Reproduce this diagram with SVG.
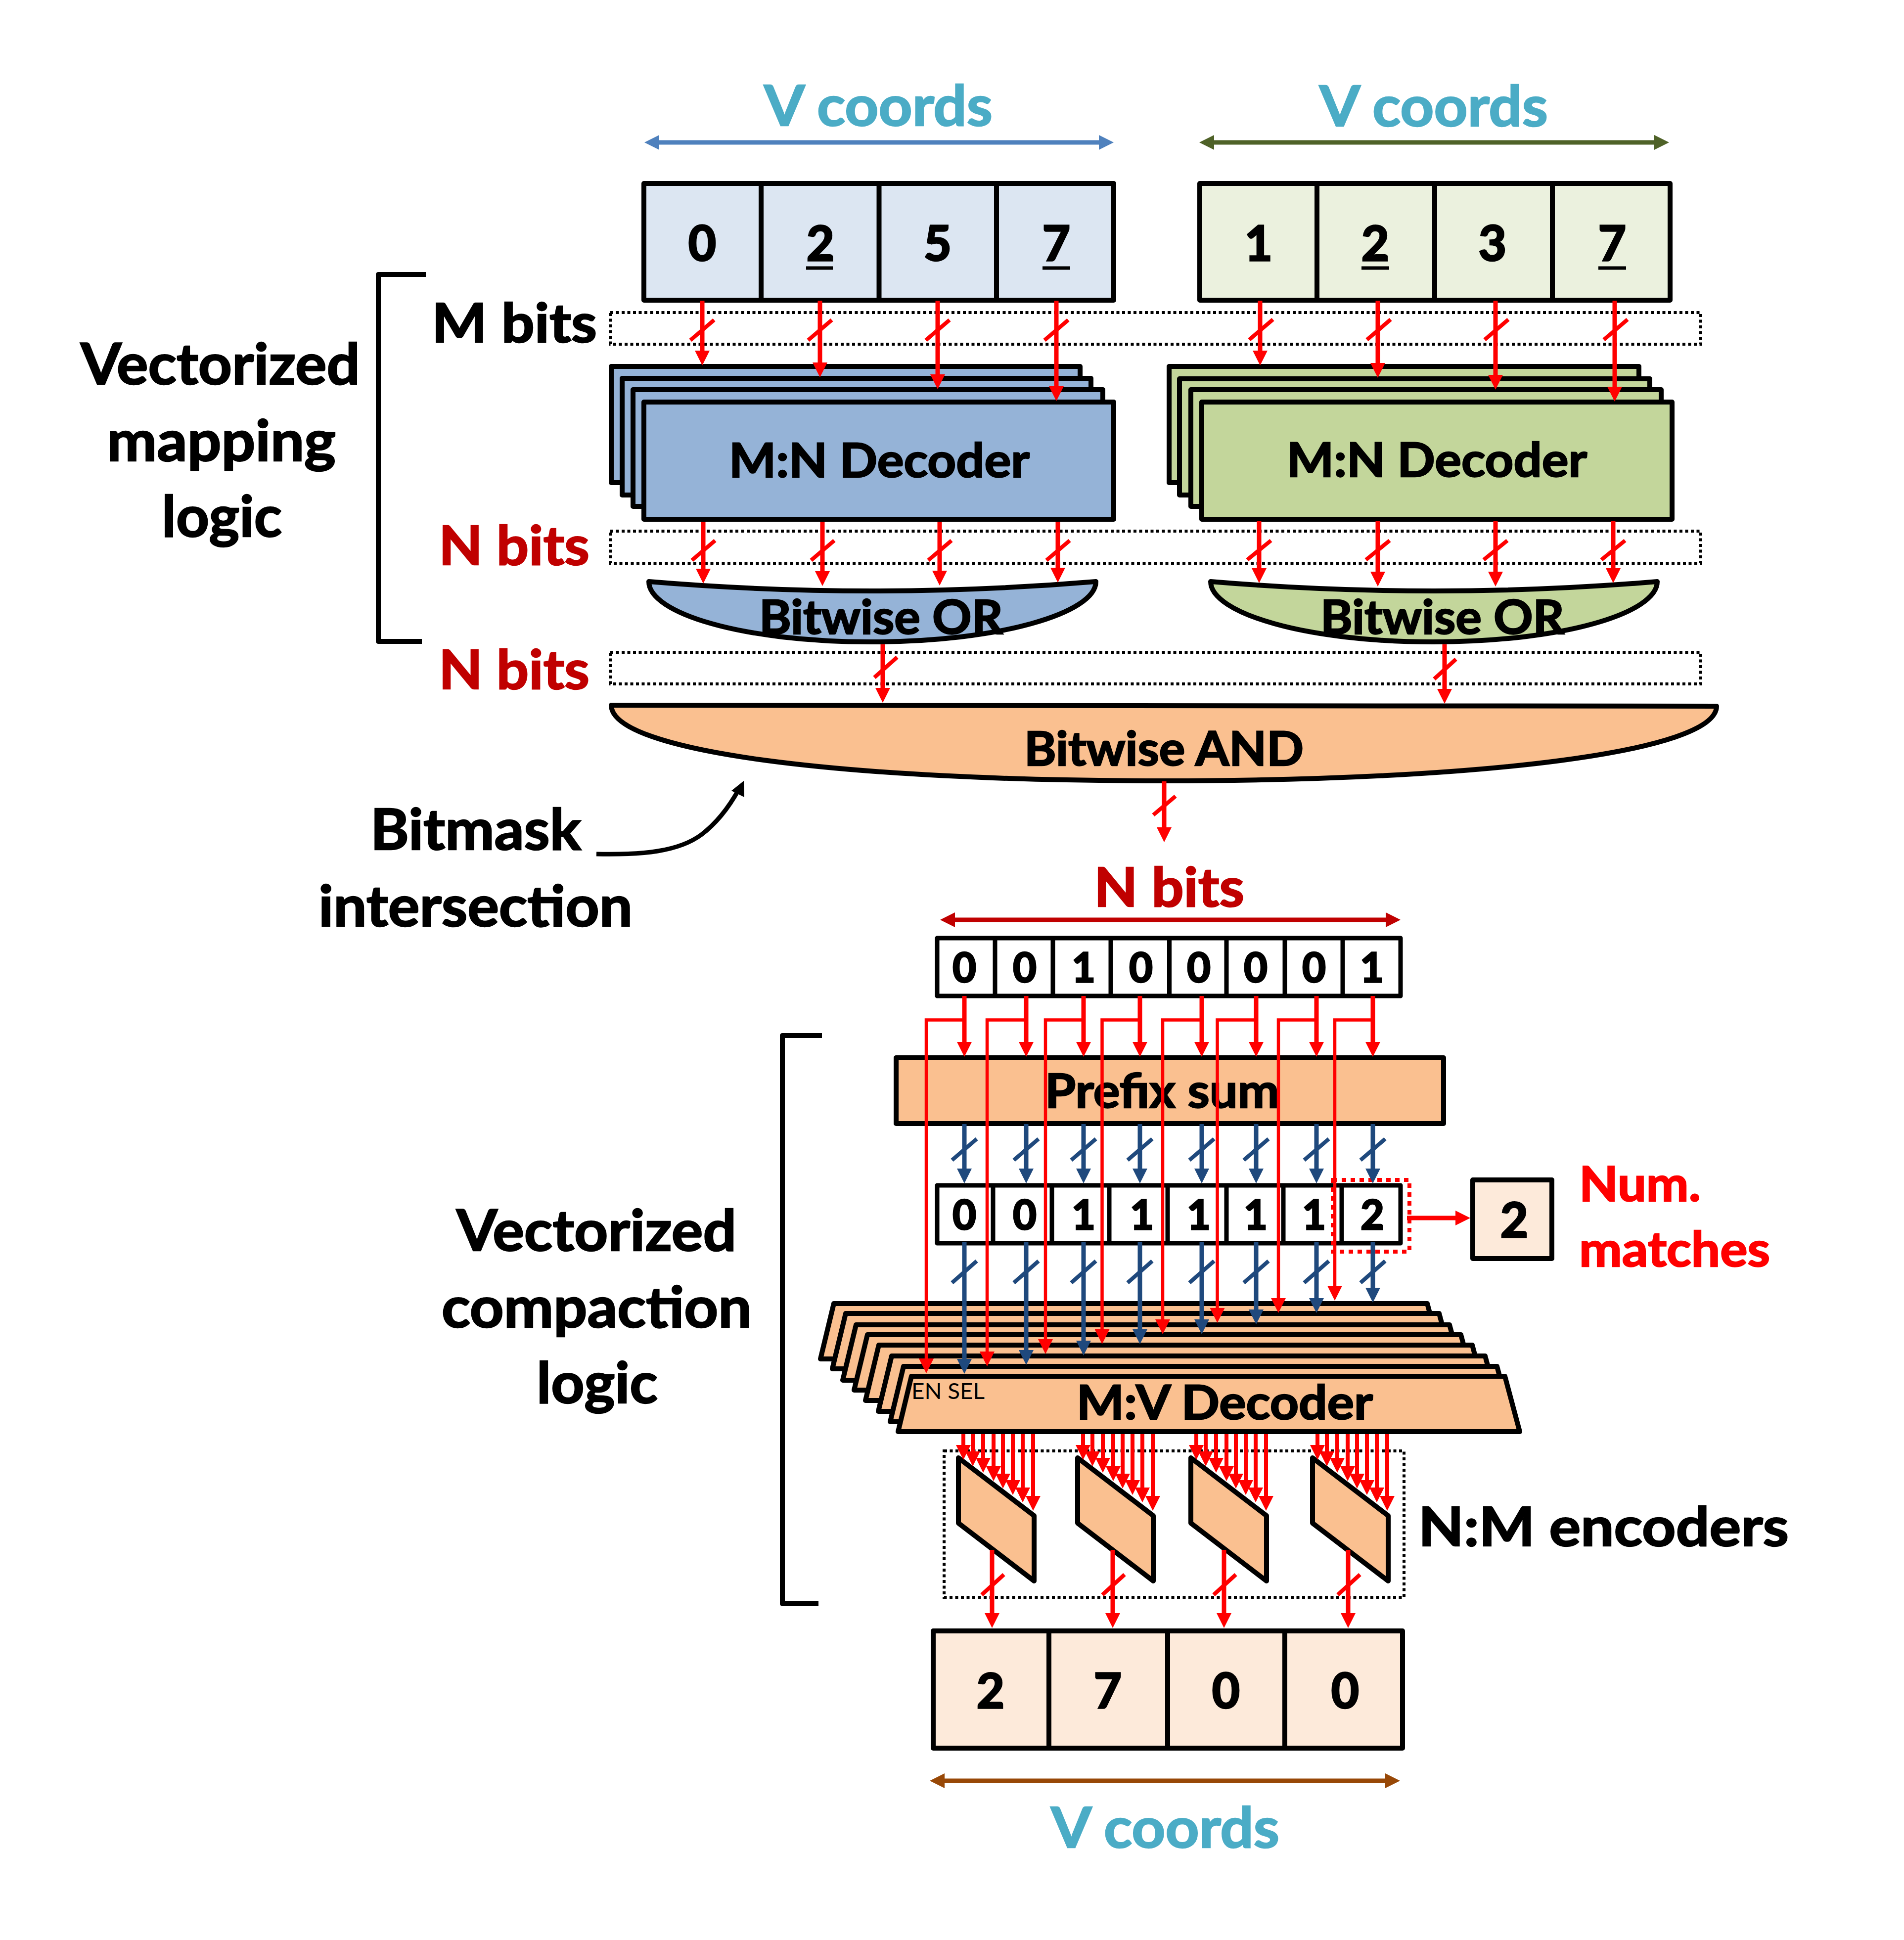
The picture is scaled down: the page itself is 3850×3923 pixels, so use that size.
<svg xmlns="http://www.w3.org/2000/svg" width="3850" height="3923" viewBox="0 0 3850 3923">
<style>
text{font-family:Lato,"Liberation Sans",sans-serif;font-weight:700;fill:#000;stroke:#000;stroke-width:2.500}
.big{font-size:114px}.lab{font-size:110px}.blk{font-size:95px}.dg{font-size:97px;text-anchor:middle;stroke-width:3.500}.dgs{font-size:82px;text-anchor:middle;stroke-width:3.500}
.vc{font-size:113px;fill:#4bacc6;stroke:#4bacc6}.dr{fill:#c00000;stroke:#c00000}.br{fill:#f00;stroke:#f00;font-size:98px}
.thin{font-size:45px;font-weight:400;stroke:none}
.box{stroke:#000;stroke-width:10;stroke-linejoin:round}
.sm{stroke-width:9;fill:#fff}
.dv{stroke:#000;stroke-width:10;fill:none}.dvs{stroke:#000;stroke-width:9;fill:none}
.ul{stroke:#000;stroke-width:7;fill:none}
.lb{fill:#dce6f2}.lg{fill:#ebf1de}.mb{fill:#95b3d7}.mg{fill:#c3d69b}.or{fill:#fac090}.lo{fill:#fdeada}
.dot{fill:none;stroke:#000;stroke-width:6;stroke-dasharray:6 5.500}
.rdot{fill:none;stroke:#f00;stroke-width:8;stroke-dasharray:9 9}
.brk{fill:none;stroke:#000;stroke-width:10;stroke-linejoin:round}
.r{fill:none;stroke:#f00;stroke-width:9;marker-end:url(#ra)}
.rj{fill:none;stroke:#f00;stroke-width:6.500;marker-end:url(#ra)}
.f{fill:none;stroke:#f00;stroke-width:8;marker-end:url(#ra)}
.rs{fill:none;stroke:#f00;stroke-width:8}
.b{fill:none;stroke:#1f497d;stroke-width:9;marker-end:url(#ba)}
.bs{fill:none;stroke:#1f497d;stroke-width:8}
.d1{stroke:#4f81bd;stroke-width:9;marker-start:url(#a1);marker-end:url(#a1)}
.d2{stroke:#4f6228;stroke-width:9;marker-start:url(#a2);marker-end:url(#a2)}
.d3{stroke:#c00000;stroke-width:9;marker-start:url(#a3);marker-end:url(#a3)}
.d4{stroke:#984807;stroke-width:9;marker-start:url(#a4);marker-end:url(#a4)}
</style>
<defs>
<marker id="ra" markerUnits="userSpaceOnUse" markerWidth="30" markerHeight="30" viewBox="0 0 30 30" refX="16" refY="15" orient="auto"><path d="M0 0L30 15L0 30Z" fill="#f00"/></marker>
<marker id="ba" markerUnits="userSpaceOnUse" markerWidth="30" markerHeight="30" viewBox="0 0 30 30" refX="16" refY="15" orient="auto"><path d="M0 0L30 15L0 30Z" fill="#1f497d"/></marker>
<marker id="a1" markerUnits="userSpaceOnUse" markerWidth="30" markerHeight="30" viewBox="0 0 30 30" refX="16" refY="15" orient="auto-start-reverse"><path d="M0 0L30 15L0 30Z" fill="#4f81bd"/></marker>
<marker id="a2" markerUnits="userSpaceOnUse" markerWidth="30" markerHeight="30" viewBox="0 0 30 30" refX="16" refY="15" orient="auto-start-reverse"><path d="M0 0L30 15L0 30Z" fill="#4f6228"/></marker>
<marker id="a3" markerUnits="userSpaceOnUse" markerWidth="30" markerHeight="30" viewBox="0 0 30 30" refX="16" refY="15" orient="auto-start-reverse"><path d="M0 0L30 15L0 30Z" fill="#c00000"/></marker>
<marker id="a4" markerUnits="userSpaceOnUse" markerWidth="30" markerHeight="30" viewBox="0 0 30 30" refX="16" refY="15" orient="auto-start-reverse"><path d="M0 0L30 15L0 30Z" fill="#984807"/></marker>
<polygon id="trap" class="box or" points="1843,2783 3043,2783 3073,2895 1816,2895"/>
<polygon id="enc" class="box or" points="1938,2948 2091,3065 2091,3197 1938,3080"/>
<g id="fan">
<path class="f" d="M1948 2900V2938"/><path class="f" d="M1967 2900V2951"/><path class="f" d="M1988 2900V2964"/><path class="f" d="M2009 2900V2981"/><path class="f" d="M2028 2900V2996"/><path class="f" d="M2048 2900V3009"/><path class="f" d="M2068 2900V3024"/><path class="f" d="M2089 2900V3041"/>
</g>
</defs>
<rect width="3850" height="3923" fill="#fff"/>

<g id="labels-left">
<text class="big" x="163" y="777" textLength="565" lengthAdjust="spacingAndGlyphs">Vectorized</text>
<text class="big" x="216" y="932" textLength="463" lengthAdjust="spacingAndGlyphs">mapping</text>
<text class="big" x="327" y="1085" textLength="243" lengthAdjust="spacingAndGlyphs">logic</text>
<text class="lab" x="873" y="692" textLength="334" lengthAdjust="spacingAndGlyphs">M bits</text>
<text class="lab dr" x="887" y="1142" textLength="305" lengthAdjust="spacingAndGlyphs">N bits</text>
<text class="lab dr" x="887" y="1393" textLength="305" lengthAdjust="spacingAndGlyphs">N bits</text>
<text class="big" x="749" y="1718" textLength="426" lengthAdjust="spacingAndGlyphs">Bitmask</text>
<text class="big" x="644" y="1873" textLength="635" lengthAdjust="spacingAndGlyphs">intersection</text>
<text class="big" x="923" y="2529" textLength="566" lengthAdjust="spacingAndGlyphs">Vectorized</text>
<text class="big" x="893" y="2684" textLength="627" lengthAdjust="spacingAndGlyphs">compaction</text>
<text class="big" x="1085" y="2837" textLength="245" lengthAdjust="spacingAndGlyphs">logic</text>
<path id="bracket-mapping" class="brk" d="M861 555H765V1297H853"/>
<path id="bracket-compaction" class="brk" d="M1662 2094H1582V3243H1655"/>
</g>

<g id="dotted-bands">
<rect class="dot" x="1234" y="632" width="2205" height="64"/>
<rect class="dot" x="1234" y="1074" width="2205" height="65"/>
<rect class="dot" x="1234" y="1319" width="2205" height="64"/>
</g>

<g id="coords-a">
<text class="vc" x="1545" y="254" textLength="462" lengthAdjust="spacingAndGlyphs">V coords</text>
<rect class="box lb" x="1302" y="371" width="950" height="236"/>
<path class="dv" d="M1539 371V607M1777.500 371V607M2015 371V607"/>
<text class="dg" x="1420" y="527">0</text><text class="dg" x="1659" y="527">2</text><text class="dg" x="1896" y="527">5</text><text class="dg" x="2136" y="527">7</text>
<path class="ul" d="M1630 542H1684M2108 542H2164"/>
</g>
<g id="coords-b">
<text class="vc" x="2668" y="255" textLength="462" lengthAdjust="spacingAndGlyphs">V coords</text>
<rect class="box lg" x="2426" y="371" width="951" height="236"/>
<path class="dv" d="M2663 371V607M2901 371V607M3139 371V607"/>
<text class="dg" x="2545" y="527">1</text><text class="dg" x="2781" y="527">2</text><text class="dg" x="3018" y="527">3</text><text class="dg" x="3260" y="527">7</text>
<path class="ul" d="M2753 542H2809M3232 542H3288"/>
</g>

<g id="decoder-a">
<rect class="box mb" x="1236" y="741" width="948" height="235"/>
<rect class="box mb" x="1258" y="765" width="948" height="236"/>
<rect class="box mb" x="1280" y="788" width="950" height="236"/>
<rect class="box mb" x="1302" y="813" width="950" height="237"/>
<text class="blk" x="1474" y="965" textLength="608" lengthAdjust="spacingAndGlyphs">M:N Decoder</text>
</g>
<g id="decoder-b">
<rect class="box mg" x="2364" y="741" width="950" height="235"/>
<rect class="box mg" x="2385" y="766" width="951" height="235"/>
<rect class="box mg" x="2408" y="788" width="951" height="236"/>
<rect class="box mg" x="2430" y="813" width="951" height="237"/>
<text class="blk" x="2602" y="964" textLength="607" lengthAdjust="spacingAndGlyphs">M:N Decoder</text>
</g>

<g id="or-a">
<path class="box mb" d="M1312 1176Q1764 1214 2216 1176C2216 1240 2020 1298 1762 1298C1500 1298 1312 1240 1312 1176Z"/>
<text class="blk" x="1535" y="1282" textLength="493" lengthAdjust="spacingAndGlyphs">Bitwise OR</text>
</g>
<g id="or-b">
<path class="box mg" d="M2448 1176Q2900 1214 3351 1176C3351 1240 3160 1298 2898 1298C2640 1298 2448 1240 2448 1176Z"/>
<text class="blk" x="2670" y="1282" textLength="493" lengthAdjust="spacingAndGlyphs">Bitwise OR</text>
</g>
<g id="and">
<path class="box or" d="M1236 1426L3471 1428C3471 1520 3000 1579 2353 1579C1700 1579 1236 1520 1236 1426Z"/>
<text class="blk" x="2071" y="1548" textLength="565" lengthAdjust="spacingAndGlyphs">Bitwise AND</text>
</g>

<g id="bitmask-top">
<text class="lab dr" x="2212" y="1833" textLength="304" lengthAdjust="spacingAndGlyphs">N bits</text>
<rect class="box sm" x="1895" y="1897" width="937" height="117"/>
<path class="dvs" d="M2012 1897V2014M2129 1897V2014M2246 1897V2014M2364.500 1897V2014M2480 1897V2014M2598 1897V2014M2715 1897V2014"/>
<text class="dgs" x="1950" y="1986">0</text><text class="dgs" x="2072" y="1986">0</text><text class="dgs" x="2191" y="1986">1</text><text class="dgs" x="2307" y="1986">0</text><text class="dgs" x="2424" y="1986">0</text><text class="dgs" x="2539" y="1986">0</text><text class="dgs" x="2657" y="1986">0</text><text class="dgs" x="2774" y="1986">1</text>
</g>
<g id="prefix-sum">
<rect class="box or" x="1812" y="2139" width="1107" height="133"/>
<text class="blk" x="2113" y="2240" textLength="474" lengthAdjust="spacingAndGlyphs">Prefix sum</text>
</g>
<g id="prefix-values">
<rect class="box sm" x="1895" y="2397" width="937" height="117"/>
<path class="dvs" d="M2008 2397V2514M2127 2397V2514M2243 2397V2514M2361 2397V2514M2480 2397V2514M2595 2397V2514M2713 2397V2514"/>
<text class="dgs" x="1950" y="2486">0</text><text class="dgs" x="2072" y="2486">0</text><text class="dgs" x="2191" y="2486">1</text><text class="dgs" x="2309" y="2486">1</text><text class="dgs" x="2424" y="2486">1</text><text class="dgs" x="2539" y="2486">1</text><text class="dgs" x="2657" y="2486">1</text><text class="dgs" x="2775" y="2486">2</text>
<rect class="rdot" x="2695" y="2386" width="155" height="145"/>
</g>
<g id="num-matches">
<rect class="box lo" x="2978" y="2386" width="160" height="159"/>
<text class="dg" x="3062" y="2502">2</text>
<text class="br" x="3193" y="2429" textLength="246" lengthAdjust="spacingAndGlyphs">Num.</text>
<text class="br" x="3193" y="2561" textLength="386" lengthAdjust="spacingAndGlyphs">matches</text>
</g>
<g id="mv-decoder">
<use href="#trap" x="-157" y="-147"/><use href="#trap" x="-133" y="-127"/><use href="#trap" x="-112" y="-104"/><use href="#trap" x="-89" y="-84"/><use href="#trap" x="-66" y="-63"/><use href="#trap" x="-40" y="-41"/><use href="#trap" x="-16" y="-20"/><use href="#trap"/>
<text class="thin" x="1843" y="2829" textLength="148" lengthAdjust="spacingAndGlyphs">EN SEL</text>
<text class="blk" x="2177" y="2870" textLength="599" lengthAdjust="spacingAndGlyphs">M:V Decoder</text>
</g>
<g id="encoders">
<rect class="dot" x="1909" y="2934" width="930" height="296"/>
<use href="#enc"/><use href="#enc" x="241"/><use href="#enc" x="470"/><use href="#enc" x="716"/>
<text class="lab" x="2868" y="3126" textLength="749" lengthAdjust="spacingAndGlyphs">N:M encoders</text>
</g>
<g id="result">
<rect class="box lo" x="1887" y="3298" width="949" height="237"/>
<path class="dv" d="M2121 3298V3535M2361 3298V3535M2598 3298V3535"/>
<text class="dg" x="2003" y="3454">2</text><text class="dg" x="2240" y="3454">7</text><text class="dg" x="2479" y="3454">0</text><text class="dg" x="2720" y="3454">0</text>
<text class="vc" x="2125" y="3736" textLength="462" lengthAdjust="spacingAndGlyphs">V coords</text>
</g>

<g id="connectors">
<path class="d1" d="M1317 288H2238"/>
<path class="d2" d="M2439 288H3361"/>
<path class="d3" d="M1915 1860H2818"/>
<path class="d4" d="M1894 3601H2817"/>

<path class="r" d="M1420 608V725"/><path class="r" d="M1658 608V749"/><path class="r" d="M1896 608V773"/><path class="r" d="M2136 608V797"/>
<path class="rs" d="M1396 688L1444 647M1634 688L1682 647M1872 688L1920 647M2112 688L2160 647"/>
<path class="r" d="M2548 608V725"/><path class="r" d="M2786 608V750"/><path class="r" d="M3024 608V774"/><path class="r" d="M3265 608V798"/>
<path class="rs" d="M2526 687L2574 646M2764 687L2812 646M3002 687L3050 646M3243 687L3291 646"/>

<path class="r" d="M1422 1055V1166"/><path class="r" d="M1663 1055V1171"/><path class="r" d="M1900 1055V1170"/><path class="r" d="M2139 1055V1164"/>
<path class="rs" d="M1399 1133L1446 1093M1640 1133L1687 1093M1877 1133L1924 1093M2116 1133L2163 1093"/>
<path class="r" d="M2546 1054V1165"/><path class="r" d="M2786 1054V1172"/><path class="r" d="M3024 1054V1172"/><path class="r" d="M3262 1054V1165"/>
<path class="rs" d="M2522 1132L2570 1093M2762 1132L2810 1093M3000 1132L3048 1093M3238 1132L3286 1093"/>

<path class="r" d="M1785 1303V1407"/><path class="r" d="M2921 1303V1409"/>
<path class="rs" d="M1768 1370L1814 1329M2900 1373L2944 1333"/>

<path class="r" d="M2354 1580V1689"/>
<path class="rs" d="M2332 1648L2377 1610"/>

<path fill="none" stroke="#000" stroke-width="9" d="M1206 1727C1300 1729 1372 1722 1418 1688C1455 1660 1478 1625 1494 1596"/>
<polygon points="1504,1579 1479,1599 1505,1612"/>

<path class="r" d="M1950 2014V2123"/><path class="r" d="M2075 2014V2123"/><path class="r" d="M2191 2014V2123"/><path class="r" d="M2305 2014V2123"/><path class="r" d="M2430 2014V2123"/><path class="r" d="M2540 2014V2123"/><path class="r" d="M2662 2014V2123"/><path class="r" d="M2776 2014V2123"/>
<path class="rj" d="M1950 2062.500H1873V2763"/><path class="rj" d="M2075 2062.500H1996V2749"/><path class="rj" d="M2191 2062.500H2114V2724"/><path class="rj" d="M2305 2062.500H2228.500V2704"/><path class="rj" d="M2430 2062.500H2351V2684"/><path class="rj" d="M2540 2062.500H2461.500V2661"/><path class="rj" d="M2662 2062.500H2585V2641"/><path class="rj" d="M2776 2062.500H2699V2616"/>

<path class="b" d="M1950 2273V2379"/><path class="b" d="M2075 2273V2379"/><path class="b" d="M2191 2273V2379"/><path class="b" d="M2305 2273V2379"/><path class="b" d="M2430 2273V2379"/><path class="b" d="M2540 2273V2379"/><path class="b" d="M2662 2273V2379"/><path class="b" d="M2776 2273V2379"/>
<path class="bs" d="M1925 2346L1975 2303M2050 2346L2100 2303M2166 2346L2216 2303M2280 2346L2330 2303M2405 2346L2455 2303M2515 2346L2565 2303M2637 2346L2687 2303M2751 2346L2801 2303"/>
<path class="b" d="M1950 2511V2764"/><path class="b" d="M2075 2511V2746"/><path class="b" d="M2191 2511V2727"/><path class="b" d="M2305 2511V2704"/><path class="b" d="M2430 2511V2684"/><path class="b" d="M2540 2511V2664"/><path class="b" d="M2662 2511V2641"/><path class="b" d="M2776 2511V2620"/>
<path class="bs" d="M1925 2594L1975 2550M2050 2594L2100 2550M2166 2594L2216 2550M2280 2594L2330 2550M2405 2594L2455 2550M2515 2594L2565 2550M2637 2594L2687 2550M2751 2594L2801 2550"/>

<path class="r" d="M2845 2463H2959"/>

<use href="#fan"/><use href="#fan" x="242"/><use href="#fan" x="471"/><use href="#fan" x="716"/>

<path class="r" d="M2006 3134V3278"/><path class="r" d="M2250 3134V3278"/><path class="r" d="M2475 3134V3278"/><path class="r" d="M2726 3134V3278"/>
<path class="rs" d="M1985 3225L2030 3184M2229 3225L2274 3184M2454 3225L2499 3184M2705 3225L2750 3184"/>
</g>
</svg>
